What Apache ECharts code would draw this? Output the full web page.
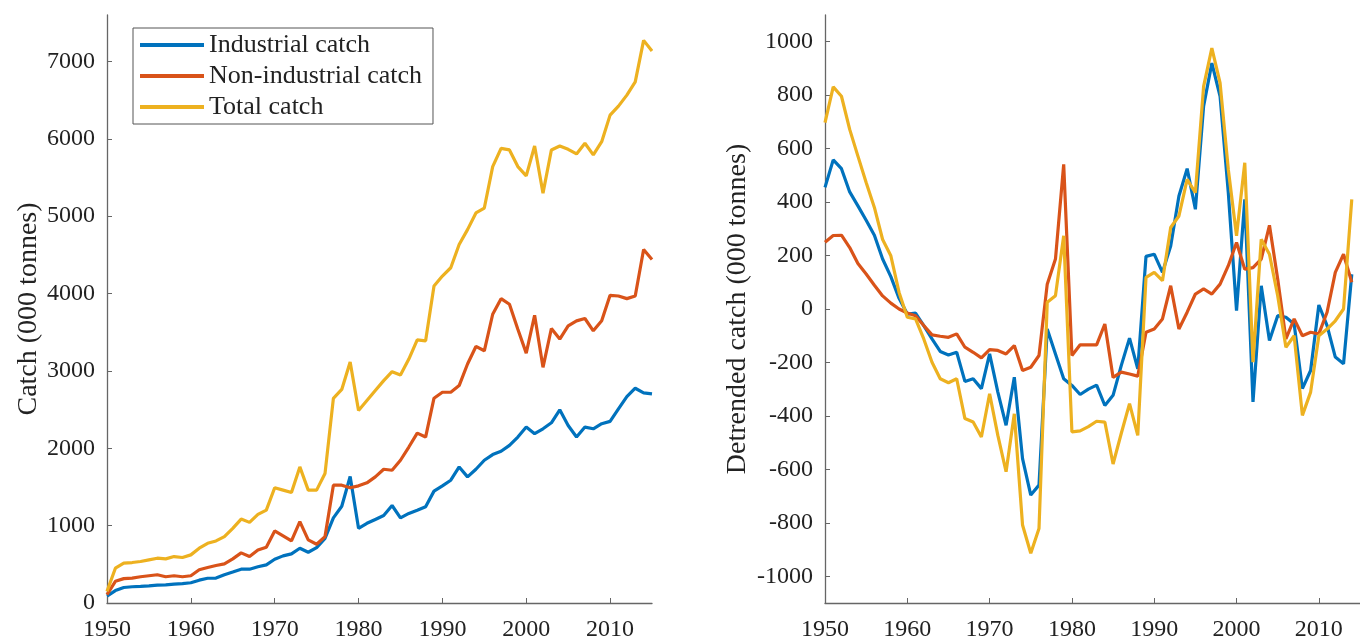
<!DOCTYPE html>
<html>
<head>
<meta charset="utf-8">
<script src="https://cdn.jsdelivr.net/npm/echarts@6/dist/echarts.min.js"></script>
<style>
html,body{margin:0;padding:0;background:#fff;}
#chart{width:1360px;height:642px;}
</style>
</head>
<body>
<div id="chart"></div>
<script>
const years = [1950,1951,1952,1953,1954,1955,1956,1957,1958,1959,1960,1961,1962,1963,1964,1965,1966,1967,1968,1969,1970,1971,1972,1973,1974,1975,1976,1977,1978,1979,1980,1981,1982,1983,1984,1985,1986,1987,1988,1989,1990,1991,1992,1993,1994,1995,1996,1997,1998,1999,2000,2001,2002,2003,2004,2005,2006,2007,2008,2009,2010,2011,2012,2013,2014,2015];

const industrial = [90,160,200,210,215,222,230,235,245,250,262,295,320,322,365,400,437,437,468,493,566,609,635,708,656,716,836,1100,1250,1635,965,1030,1080,1130,1260,1100,1158,1200,1244,1446,1514,1587,1759,1630,1729,1845,1918,1961,2038,2145,2274,2188,2252,2329,2497,2295,2145,2274,2252,2317,2347,2510,2668,2776,2716,2703];
const nonIndustrial = [107,280,315,322,339,352,365,339,352,339,352,429,459,485,506,571,648,601,686,721,931,867,802,1051,815,759,858,1523,1523,1489,1514,1553,1630,1729,1716,1845,2016,2196,2145,2647,2724,2724,2810,3089,3316,3260,3732,3934,3861,3539,3230,3719,3046,3548,3411,3582,3647,3677,3518,3647,3977,3968,3934,3968,4569,4440];
const total = [150,450,515,523,536,558,579,570,600,588,622,708,772,802,858,965,1085,1042,1145,1201,1489,1459,1428,1759,1459,1459,1673,2645,2760,3115,2488,2617,2746,2874,2990,2947,3153,3402,3389,4097,4226,4333,4633,4826,5041,5105,5641,5877,5856,5641,5521,5907,5298,5856,5907,5864,5804,5942,5792,5963,6306,6422,6564,6735,7272,7134];

// detrended (visible part of right panel, 1950-2014)
const detIndustrial = [455,558,525,438,386,332,276,187,121,40,-19,-15,-62,-112,-159,-172,-162,-271,-261,-298,-168,-311,-435,-255,-560,-696,-659,-75,-168,-261,-286,-320,-300,-285,-361,-323,-211,-109,-224,197,205,137,236,423,525,373,759,920,796,435,-6,410,-348,87,-118,-25,-31,-56,-298,-230,15,-62,-180,-205,130];
const detNonIndustrial = [250,275,276,230,170,131,89,49,22,0,-15,-25,-62,-97,-102,-106,-93,-143,-162,-183,-152,-155,-168,-137,-230,-218,-174,93,187,541,-174,-134,-134,-134,-56,-256,-236,-243,-251,-87,-75,-37,87,-75,-12,56,75,56,93,162,249,149,155,187,313,112,-112,-37,-100,-87,-93,-12,137,205,100];
const detTotal = [697,831,796,672,572,473,380,260,199,62,-31,-37,-112,-199,-261,-276,-261,-410,-423,-479,-317,-473,-609,-392,-808,-914,-821,25,50,274,-460,-456,-440,-420,-423,-580,-465,-354,-473,118,137,106,305,348,485,435,833,976,846,522,274,547,-199,261,205,50,-143,-100,-398,-311,-100,-75,-44,0,410];

const seriesNames = ['Industrial catch','Non-industrial catch','Total catch'];
const yearTicks = [1950,1960,1970,1980,1990,2000,2010];
const leftTicks = [0,1000,2000,3000,4000,5000,6000,7000];
const rightTicks = [-1000,-800,-600,-400,-200,0,200,400,600,800,1000];

const colors = ['#0072BD','#D95319','#EDB120'];
const FONT = "'Liberation Serif','Times New Roman',serif";
const axisColor = '#666';
const textColor = '#222';

function pairs(vals){ return vals.map((v,i)=>[years[i], v]); }
const plain = v => String(v);

function xAxisCfg(idx){
  return {
    type:'value', gridIndex:idx, min:1950, max:2015,
    axisLine:{show:true, onZero:false, lineStyle:{color:axisColor, width:1.3}},
    axisTick:{show:true, inside:true, length:5, customValues:yearTicks, lineStyle:{color:axisColor}},
    axisLabel:{customValues:yearTicks, formatter:plain, color:textColor, fontFamily:FONT, fontSize:24, margin:15},
    splitLine:{show:false}
  };
}
function yAxisCfg(idx, min, max, ticks, name, gap){
  return {
    type:'value', gridIndex:idx, min:min, max:max,
    name:name, nameLocation:'middle', nameGap:gap,
    nameTextStyle:{color:textColor, fontFamily:FONT, fontSize:28},
    axisLine:{show:true, onZero:false, lineStyle:{color:axisColor, width:1.3}},
    axisTick:{show:true, inside:true, length:5, customValues:ticks, lineStyle:{color:axisColor}},
    axisLabel:{customValues:ticks, formatter:plain, color:textColor, fontFamily:FONT, fontSize:24, margin:12},
    splitLine:{show:false}
  };
}
function line(name, data, xi, yi, c, z){
  return {
    name:name, type:'line', xAxisIndex:xi, yAxisIndex:yi, data:data,
    showSymbol:false, symbol:'none', smooth:false, z:z,
    lineStyle:{color:c, width:3.2}, itemStyle:{color:c},
    animation:false
  };
}

const chart = echarts.init(document.getElementById('chart'), null, {renderer:'canvas'});
chart.setOption({
  backgroundColor:'#fff',
  animation:false,
  grid:[
    {left:107, top:15, width:545, bottom:37},
    {left:825, top:15, width:545, bottom:37}
  ],
  legend:{
    data:seriesNames,
    orient:'vertical',
    left:133, top:28,
    backgroundColor:'#fff',
    borderColor:'#555', borderWidth:1,
    padding:[4,11,4,7],
    itemGap:5,
    itemWidth:64, itemHeight:4,
    icon:'rect',
    textStyle:{color:textColor, fontFamily:FONT, fontSize:26, lineHeight:26},
    selectedMode:false
  },
  xAxis:[xAxisCfg(0), xAxisCfg(1)],
  yAxis:[
    yAxisCfg(0, 0, 7600, leftTicks, 'Catch (000 tonnes)', 56),
    yAxisCfg(1, -1100, 1100, rightTicks, 'Detrended catch (000 tonnes)', 73)
  ],
  series:[
    line(seriesNames[0], pairs(industrial), 0, 0, colors[0], 2),
    line(seriesNames[1], pairs(nonIndustrial), 0, 0, colors[1], 3),
    line(seriesNames[2], pairs(total), 0, 0, colors[2], 4),
    line(seriesNames[0], pairs(detIndustrial), 1, 1, colors[0], 2),
    line(seriesNames[1], pairs(detNonIndustrial), 1, 1, colors[1], 3),
    line(seriesNames[2], pairs(detTotal), 1, 1, colors[2], 4)
  ]
});
</script>
</body>
</html>
